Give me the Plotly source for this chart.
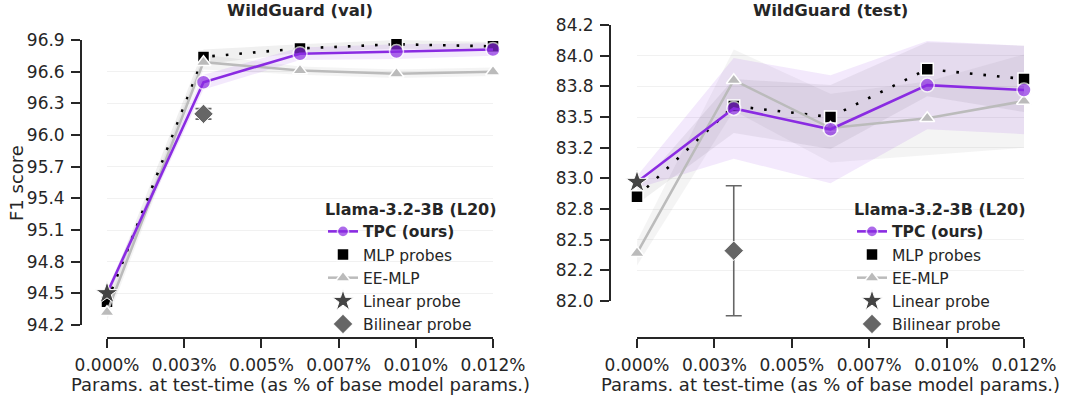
import plotly.graph_objects as go

# x positions (% of base model params) and axis ticks
x_vals = [0.0, 0.003125, 0.00625, 0.009375, 0.0125]
x_ticks = [0.0, 0.0025, 0.005, 0.0075, 0.01, 0.0125]
x_tick_labels = ["0.000%", "0.003%", "0.005%", "0.007%", "0.010%", "0.012%"]

# WildGuard (val)
tpc_val = [94.50, 96.50, 96.77, 96.79, 96.81]
tpc_val_err = [0.04, 0.07, 0.06, 0.07, 0.06]
mlp_val = [94.42, 96.74, 96.82, 96.86, 96.84]
mlp_val_err = [0.07, 0.07, 0.04, 0.04, 0.04]
ee_val = [94.32, 96.69, 96.61, 96.58, 96.60]
ee_val_err = [0.08, 0.07, 0.04, 0.04, 0.04]
linear_val = 94.50
bilinear_val = 96.20
bilinear_val_err = 0.05
val_ticks = [94.2, 94.5, 94.8, 95.1, 95.4, 95.7, 96.0, 96.3, 96.6, 96.9]
val_tick_labels = ["94.2", "94.5", "94.8", "95.1", "95.4", "95.7", "96.0", "96.3", "96.6", "96.9"]

# WildGuard (test)
tpc_test = [82.97, 83.57, 83.40, 83.76, 83.72]
tpc_test_err = [0.05, 0.41, 0.44, 0.36, 0.36]
mlp_test = [82.85, 83.59, 83.50, 83.89, 83.81]
mlp_test_err = [0.06, 0.22, 0.26, 0.22, 0.27]
ee_test = [82.39, 83.80, 83.41, 83.49, 83.63]
ee_test_err = [0.10, 0.25, 0.28, 0.30, 0.38]
linear_test = 82.97
bilinear_test = 82.41
bilinear_test_err = 0.53
test_ticks = [82.0, 82.25, 82.5, 82.75, 83.0, 83.25, 83.5, 83.75, 84.0, 84.25]
test_tick_labels = ["82.0", "82.2", "82.5", "82.8", "83.0", "83.2", "83.5", "83.8", "84.0", "84.2"]

PURPLE = "#8a2be2"
GRAY = "#bbbbbb"
TXT = "#262626"
FONT = "DejaVu Sans"
W, H = 1080, 397

fig = go.Figure()


def band(xa, ya, y, err, color):
    up = [v + e for v, e in zip(y, err)]
    lo = [v - e for v, e in zip(y, err)]
    fig.add_trace(go.Scatter(x=x_vals, y=up, mode="lines", line=dict(width=0),
                             xaxis=xa, yaxis=ya, showlegend=False, hoverinfo="skip"))
    fig.add_trace(go.Scatter(x=x_vals, y=lo, mode="lines", line=dict(width=0),
                             fill="tonexty", fillcolor=color,
                             xaxis=xa, yaxis=ya, showlegend=False, hoverinfo="skip"))


def panel(xa, ya, xa_bil, ya_bil, leg, tpc, tpc_err, mlp, mlp_err, ee, ee_err, lin, bil, bil_err):
    band(xa, ya, ee, ee_err, "rgba(170,170,170,0.13)")
    band(xa, ya, mlp, mlp_err, "rgba(60,60,60,0.08)")
    band(xa, ya, tpc, tpc_err, "rgba(138,43,226,0.10)")

    # dotted MLP line
    fig.add_trace(go.Scatter(x=x_vals, y=mlp, mode="lines",
                             line=dict(color="black", width=2.6, dash="2.6px,11px"),
                             xaxis=xa, yaxis=ya, showlegend=False))
    fig.add_trace(go.Scatter(x=x_vals, y=mlp, mode="markers", name="MLP probes",
                             marker=dict(symbol="square", size=12, color="black",
                                         line=dict(color="white", width=1.5)),
                             xaxis=xa, yaxis=ya, legend=leg, legendrank=2, cliponaxis=False))
    fig.add_trace(go.Scatter(x=x_vals, y=ee, mode="lines+markers", name="EE-MLP",
                             line=dict(color=GRAY, width=2.5),
                             marker=dict(symbol="triangle-up", size=13, color=GRAY,
                                         line=dict(color="white", width=1.5)),
                             xaxis=xa, yaxis=ya, legend=leg, legendrank=3, cliponaxis=False))
    fig.add_trace(go.Scatter(x=x_vals, y=tpc, mode="lines+markers", name="<b>TPC (ours)</b>",
                             line=dict(color=PURPLE, width=2.6),
                             marker=dict(size=[0, 14, 14, 14, 14], color=PURPLE,
                                         line=dict(color="white", width=1.5)),
                             xaxis=xa, yaxis=ya, legend=leg, legendrank=1, cliponaxis=False))
    fig.add_trace(go.Scatter(x=[x_vals[0]], y=[lin], mode="markers", name="Linear probe",
                             marker=dict(symbol="star", size=17, color="#444444",
                                         line=dict(color="white", width=1)),
                             xaxis=xa, yaxis=ya, legend=leg, legendrank=4, cliponaxis=False))
    fig.add_trace(go.Scatter(x=[x_vals[1]], y=[bil], mode="markers", name="Bilinear probe",
                             marker=dict(symbol="diamond", size=15, color="#666666",
                                         line=dict(color="white", width=1)),
                             error_y=dict(type="constant", value=bil_err, color="#666666",
                                          thickness=1.6, width=8),
                             xaxis=xa_bil, yaxis=ya_bil, legend=leg, legendrank=5,
                             cliponaxis=False))


panel("x", "y", "x", "y", "legend", tpc_val, tpc_val_err, mlp_val, mlp_val_err, ee_val,
      ee_val_err, linear_val, bilinear_val, bilinear_val_err)
panel("x2", "y2", "x3", "y3", "legend2", tpc_test, tpc_test_err, mlp_test, mlp_test_err, ee_test,
      ee_test_err, linear_test, bilinear_test, bilinear_test_err)

axis_common = dict(showline=True, linecolor=TXT, linewidth=1.8, ticks="outside",
                   ticklen=9, tickwidth=1.6, tickcolor=TXT, zeroline=False, automargin=False,
                   tickfont=dict(family=FONT, size=17, color=TXT))

# right panel pixel extents; an invisible twin subplot with the same scale but a taller
# domain lets the bilinear error bar hang below the lowest tick like the original
y2_top_px, y2_bot_px, y3_bot_px = 25, 301, 330
units_per_px = (test_ticks[-1] - test_ticks[0]) / (y2_bot_px - y2_top_px)
y3_lo = test_ticks[0] - (y3_bot_px - y2_bot_px) * units_per_px

legend_common = dict(xanchor="left", yanchor="top", bgcolor="rgba(255,255,255,0)",
                     font=dict(family=FONT, size=15.5, color=TXT), traceorder="normal",
                     title=dict(text="<b>Llama-3.2-3B (L20)</b>",
                                font=dict(family=FONT, size=16, color=TXT)),
                     itemwidth=30, tracegroupgap=0)

fig.update_layout(
    width=W, height=H,
    margin=dict(l=0, r=0, t=0, b=0, autoexpand=False),
    plot_bgcolor="rgba(0,0,0,0)", paper_bgcolor="white",
    font=dict(family=FONT, size=16, color=TXT),
    xaxis=dict(domain=[107 / W, 493 / W], range=[x_ticks[0], x_ticks[-1]], anchor="free",
               position=1 - 338 / H, tickvals=x_ticks, ticktext=x_tick_labels, showgrid=False,
               ticklabelstandoff=3, **axis_common),
    yaxis=dict(domain=[1 - 325 / H, 1 - 40 / H], range=[val_ticks[0], val_ticks[-1]],
               anchor="free", position=81 / W, tickvals=val_ticks, ticktext=val_tick_labels,
               showgrid=True, gridcolor="#f1f1f1", gridwidth=1, ticklabelstandoff=3,
               **axis_common),
    xaxis2=dict(domain=[637 / W, 1024 / W], range=[x_ticks[0], x_ticks[-1]], anchor="free",
                position=1 - 338 / H, tickvals=x_ticks, ticktext=x_tick_labels, showgrid=False,
                ticklabelstandoff=3, **axis_common),
    yaxis2=dict(domain=[1 - y2_bot_px / H, 1 - y2_top_px / H],
                range=[test_ticks[0], test_ticks[-1]],
                anchor="free", position=610 / W, tickvals=test_ticks, ticktext=test_tick_labels,
                showgrid=True, gridcolor="#f1f1f1", gridwidth=1, ticklabelstandoff=3,
                **axis_common),
    xaxis3=dict(domain=[637 / W, 1024 / W], range=[x_ticks[0], x_ticks[-1]], anchor="y3",
                visible=False, showgrid=False, zeroline=False),
    yaxis3=dict(domain=[1 - y3_bot_px / H, 1 - y2_top_px / H], range=[y3_lo, test_ticks[-1]],
                anchor="x3", visible=False, showgrid=False, zeroline=False),
    legend=dict(x=323 / W, y=1 - 194 / H, **legend_common),
    legend2=dict(x=852 / W, y=1 - 194 / H, **legend_common),
)

ann = [
    dict(text="<b>WildGuard (val)</b>", x=0.5, xref="x domain", y=1 - 11 / H, yref="paper"),
    dict(text="<b>WildGuard (test)</b>", x=0.5, xref="x2 domain", y=1 - 11 / H, yref="paper"),
    dict(text="Params. at test-time (as % of base model params.)", x=0.5, xref="x domain",
         y=1 - 384 / H, yref="paper", font=dict(family=FONT, size=18, color=TXT)),
    dict(text="Params. at test-time (as % of base model params.)", x=0.5, xref="x2 domain",
         y=1 - 384 / H, yref="paper", font=dict(family=FONT, size=18, color=TXT)),
    dict(text="F1 score", x=16 / W, xref="paper", y=1 - 183 / H, yref="paper", textangle=-90,
         font=dict(family=FONT, size=18, color=TXT)),
]
for a in ann:
    a.setdefault("font", dict(family=FONT, size=16.5, color=TXT))
    fig.add_annotation(showarrow=False, xanchor="center", yanchor="middle", **a)

# drop the default page margin so the figure sits at the window's top-left corner
fig.write_html("out.html", config={"displayModeBar": False},
               post_script="document.body.style.margin='0px';")
